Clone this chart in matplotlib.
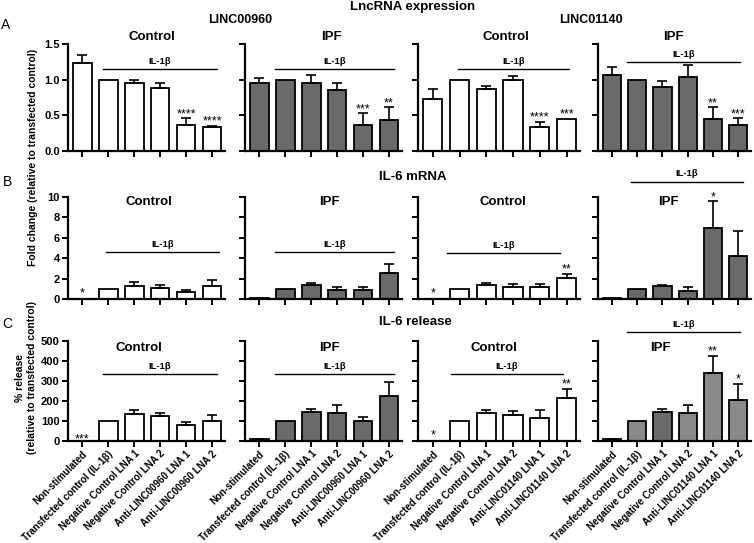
import matplotlib
matplotlib.use("Agg")
import matplotlib.pyplot as plt
import numpy as np

plt.rcParams['font.family'] = ['Liberation Sans', 'DejaVu Sans']
plt.rcParams['font.weight'] = 'bold'

# ---------------- data ----------------
labels_960 = ["Non-stimulated", "Transfected control (IL-1β)", "Negative Control LNA 1",
              "Negative Control LNA 2", "Anti-LINC00960 LNA 1", "Anti-LINC00960 LNA 2"]
labels_1140 = ["Non-stimulated", "Transfected control (IL-1β)", "Negative Control LNA 1",
               "Negative Control LNA 2", "Anti-LINC01140 LNA 1", "Anti-LINC01140 LNA 2"]

# A: LncRNA expression
lnc_ctrl_960 = [1.23, 1.00, 0.95, 0.89, 0.36, 0.34]
lnc_ctrl_960_err = [0.12, 0.0, 0.04, 0.06, 0.10, 0.01]
lnc_ipf_960 = [0.96, 1.00, 0.96, 0.85, 0.37, 0.43]
lnc_ipf_960_err = [0.07, 0.0, 0.10, 0.10, 0.16, 0.18]
lnc_ctrl_1140 = [0.73, 1.00, 0.87, 1.00, 0.33, 0.45]
lnc_ctrl_1140_err = [0.14, 0.0, 0.04, 0.05, 0.08, 0.0]
lnc_ipf_1140 = [1.06, 1.00, 0.90, 1.04, 0.45, 0.36]
lnc_ipf_1140_err = [0.12, 0.0, 0.08, 0.16, 0.16, 0.10]

# B: IL-6 mRNA
mrna_ctrl_960 = [0.0, 1.00, 1.30, 1.10, 0.71, 1.26]
mrna_ctrl_960_err = [0.0, 0.0, 0.35, 0.23, 0.21, 0.62]
mrna_ipf_960 = [0.05, 1.00, 1.36, 0.85, 0.90, 2.58]
mrna_ipf_960_err = [0.0, 0.0, 0.16, 0.36, 0.25, 0.85]
mrna_ctrl_1140 = [0.0, 1.00, 1.39, 1.13, 1.16, 2.10]
mrna_ctrl_1140_err = [0.0, 0.0, 0.21, 0.31, 0.32, 0.38]
mrna_ipf_1140 = [0.05, 1.00, 1.32, 0.75, 7.00, 4.20]
mrna_ipf_1140_err = [0.0, 0.0, 0.10, 0.38, 2.60, 2.45]

# C: IL-6 release
rel_ctrl_960 = [0, 100, 137, 125, 78, 100]
rel_ctrl_960_err = [0, 0, 16, 17, 17, 28]
rel_ipf_960 = [8, 100, 145, 140, 100, 223]
rel_ipf_960_err = [2, 0, 13, 40, 20, 72]
rel_ctrl_1140 = [0, 100, 140, 128, 115, 215]
rel_ctrl_1140_err = [0, 0, 17, 20, 38, 47]
rel_ipf_1140 = [8, 100, 145, 140, 340, 207]
rel_ipf_1140_err = [3, 0, 15, 38, 85, 80]

# significance marks: (bar index, text)
sig_A = [[(4, "****"), (5, "****")], [(4, "***"), (5, "**")],
         [(4, "****"), (5, "***")], [(4, "**"), (5, "***")]]
sig_B = [[], [], [(5, "**")], [(4, "*")]]
sig_C = [[], [], [(5, "**")], [(4, "**"), (5, "*")]]
# marks placed where no bar is drawn (non-stimulated)
base_sig_B = [(0, "*"), None, (0, "*"), None]
base_sig_C = [(0, "***"), None, (0, "*"), None]

# ---------------- layout ----------------
W, H = 754, 543
fig = plt.figure(figsize=(W / 100, H / 100), dpi=100)

panel_left = [68, 245, 418, 598]
panel_width = [157, 157, 162, 153]
rows = {"A": (44, 107), "B": (197, 102), "C": (341, 100)}

WHITE = "white"
DARK = "#6a6a6a"
LIGHT = "#8a8a8a"
STAR_FS = 9


def px_axes(left, top, width, height):
    return fig.add_axes([left / W, 1 - (top + height) / H, width / W, height / H])


def draw_panel(ax, vals, errs, colors, ylim, yticks, yticklabels, show_ylabels,
               xlabels=None):
    x = np.arange(len(vals))
    ax.bar(x, vals, width=0.72, color=colors, edgecolor="black", linewidth=1.3, zorder=2)
    e = np.array(errs, dtype=float)
    mask = e > 0
    ax.errorbar(x[mask], np.array(vals)[mask], yerr=[np.zeros(mask.sum()), e[mask]],
                fmt="none", ecolor="black", elinewidth=1.2, capsize=3.5, capthick=1.2,
                zorder=3)
    ax.set_xlim(-0.55, 5.5)
    ax.set_ylim(*ylim)
    ax.set_yticks(yticks)
    if show_ylabels:
        ax.set_yticklabels(yticklabels, fontsize=8, fontweight="bold")
    else:
        ax.set_yticklabels([])
    ax.set_xticks(x)
    if xlabels is not None:
        ax.set_xticklabels(xlabels, rotation=45, ha="right", rotation_mode="anchor",
                           fontsize=7, fontweight="bold")
    else:
        ax.set_xticklabels([])
    for s in ["top", "right"]:
        ax.spines[s].set_visible(False)
    for s in ["left", "bottom"]:
        ax.spines[s].set_linewidth(1.6)
    ax.tick_params(direction="out", length=4, width=1.4, pad=2)
    ax.tick_params(axis="x", pad=1.5)
    ax.patch.set_alpha(0)


def il1b(ax, x0, x1, y, ylab):
    ax.plot([x0, x1], [y, y], color="black", lw=1.0, clip_on=False)
    ax.text((x0 + x1) / 2, ylab, "IL-1β", ha="center", va="bottom", fontsize=6.8,
            fontweight="bold", clip_on=False)


def stars(ax, marks, vals, errs):
    for i, t in marks:
        ax.annotate(t, (i, vals[i] + errs[i]), xytext=(0, 0.8), textcoords="offset points",
                    ha="center", va="baseline", fontsize=STAR_FS, fontweight="normal",
                    annotation_clip=False)


def base_star(ax, mark, offset_pt):
    if mark is None:
        return
    i, t = mark
    ax.annotate(t, (i, 0), xytext=(0, offset_pt), textcoords="offset points",
                ha="center", va="baseline", fontsize=STAR_FS, fontweight="normal",
                annotation_clip=False)


def title(ax, x, y, s):
    ax.text(x, y, s, ha="center", va="center", fontsize=9.5, fontweight="bold",
            clip_on=False)


# ----- Row A -----
A_data = [(lnc_ctrl_960, lnc_ctrl_960_err, [WHITE] * 6),
          (lnc_ipf_960, lnc_ipf_960_err, [DARK] * 6),
          (lnc_ctrl_1140, lnc_ctrl_1140_err, [WHITE] * 6),
          (lnc_ipf_1140, lnc_ipf_1140_err, [DARK] * 6)]
A_titles = [("Control", 2.67), ("IPF", 2.77), ("Control", 2.74), ("IPF", 2.44)]
A_il = [(0.78, 5.2, 1.15), (0.6, 5.2, 1.15), (0.93, 5.1, 1.15), (0.6, 5.05, 1.25)]
top, h = rows["A"]
for k in range(4):
    ax = px_axes(panel_left[k], top, panel_width[k], h)
    v, e, c = A_data[k]
    draw_panel(ax, v, e, c, (0, 1.5), [0, 0.5, 1.0, 1.5], ["0.0", "0.5", "1.0", "1.5"], k == 0)
    title(ax, A_titles[k][1], 1.60, A_titles[k][0])
    x0, x1, y = A_il[k]
    il1b(ax, x0, x1, y, y + 0.04)
    stars(ax, sig_A[k], v, e)

# ----- Row B -----
B_data = [(mrna_ctrl_960, mrna_ctrl_960_err, [WHITE] * 6),
          (mrna_ipf_960, mrna_ipf_960_err, [DARK] * 6),
          (mrna_ctrl_1140, mrna_ctrl_1140_err, [WHITE] * 6),
          (mrna_ipf_1140, mrna_ipf_1140_err, [DARK] * 6)]
B_titles = [("Control", 2.56), ("IPF", 2.7), ("Control", 2.63), ("IPF", 2.24)]
B_il = [(0.9, 5.27, 4.6), (0.6, 5.2, 4.6), (0.55, 4.74, 4.5), (0.75, 5.2, 11.5)]
top, h = rows["B"]
for k in range(4):
    ax = px_axes(panel_left[k], top, panel_width[k], h)
    v, e, c = B_data[k]
    draw_panel(ax, v, e, c, (0, 10), [0, 2, 4, 6, 8, 10], ["0", "2", "4", "6", "8", "10"], k == 0)
    title(ax, B_titles[k][1], 9.5, B_titles[k][0])
    x0, x1, y = B_il[k]
    il1b(ax, x0, x1, y, y + 0.35)
    stars(ax, sig_B[k], v, e)
    base_star(ax, base_sig_B[k], 2.2)

# ----- Row C -----
C_data = [(rel_ctrl_960, rel_ctrl_960_err, [WHITE] * 6),
          (rel_ipf_960, rel_ipf_960_err, [DARK] * 6),
          (rel_ctrl_1140, rel_ctrl_1140_err, [WHITE] * 6),
          (rel_ipf_1140, rel_ipf_1140_err, [LIGHT, LIGHT, DARK, LIGHT, LIGHT, LIGHT])]
C_titles = [("Control", 2.2), ("IPF", 2.7), ("Control", 2.3), ("IPF", 1.9)]
C_il = [(0.78, 5.2, 333), (0.6, 5.2, 333), (0.67, 4.85, 333), (0.6, 5.05, 545)]
C_base_off = [-1.0, 0, 1.5, 0]
top, h = rows["C"]
for k in range(4):
    ax = px_axes(panel_left[k], top, panel_width[k], h)
    v, e, c = C_data[k]
    labs = labels_960 if k < 2 else labels_1140
    draw_panel(ax, v, e, c, (0, 500), [0, 100, 200, 300, 400, 500],
               ["0", "100", "200", "300", "400", "500"], k == 0, xlabels=labs)
    title(ax, C_titles[k][1], 465, C_titles[k][0])
    x0, x1, y = C_il[k]
    il1b(ax, x0, x1, y, y + 15)
    stars(ax, sig_C[k], v, e)
    base_star(ax, base_sig_C[k], C_base_off[k])

# ----- figure texts -----
def ftext(x, y, s, **kw):
    fig.text(x / W, 1 - y / H, s, **kw)

ftext(413, 7, "LncRNA expression", ha="center", va="center", fontsize=9.5, fontweight="bold")
ftext(240, 20, "LINC00960", ha="center", va="center", fontsize=9, fontweight="bold")
ftext(591, 20, "LINC01140", ha="center", va="center", fontsize=9, fontweight="bold")
ftext(413, 177, "IL-6 mRNA", ha="center", va="center", fontsize=9.5, fontweight="bold")
ftext(415, 322, "IL-6 release", ha="center", va="center", fontsize=9.5, fontweight="bold")
ftext(6, 25, "A", ha="center", va="center", fontsize=10, fontweight="normal")
ftext(8, 182, "B", ha="center", va="center", fontsize=10, fontweight="normal")
ftext(7, 324, "C", ha="center", va="center", fontsize=10, fontweight="normal")
ftext(33, 157, "Fold change (relative to transfected control)", ha="center", va="center",
      rotation=90, fontsize=7.5, fontweight="bold")
ftext(26, 378, "% release\n(relative to transfected control)", ha="center", va="center",
      rotation=90, fontsize=7.5, fontweight="bold", multialignment="center")

fig.savefig("out.png", dpi=100)
